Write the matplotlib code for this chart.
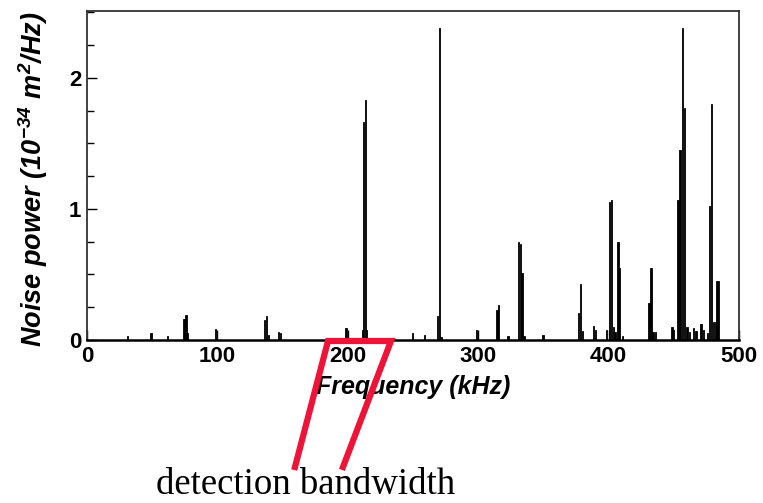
#!/usr/bin/env python3
"""Noise power spectrum with the detection band marked below the axis."""

import matplotlib

matplotlib.use("Agg")
import matplotlib.pyplot as plt
from matplotlib.lines import Line2D
from matplotlib.ticker import MultipleLocator

# Spectral lines: frequency (kHz) and noise power (1e-34 m^2/Hz)
freq_khz = [
    31.0, 49.0, 62.0, 74.5, 76.0, 77.2, 98.7, 136.3, 137.8, 139.0,
    146.7, 148.6, 198.6, 211.3, 212.3, 213.4, 214.5, 249.7, 259.0, 268.6,
    270.2, 271.5, 298.8, 314.5, 315.5, 322.9, 330.8, 332.2, 333.6, 335.0,
    349.7, 376.8, 378.6, 380.0, 388.3, 390.0, 398.5, 400.5, 402.0, 403.5,
    405.0, 407.2, 408.4, 410.5, 431.0, 432.5, 434.0, 436.0, 448.5, 450.0,
    453.3, 454.8, 456.5, 458.0, 460.0, 462.0, 465.0, 467.0, 470.8, 473.0,
    476.0, 477.5, 479.0, 480.5, 481.8, 483.2, 484.5,
]
power = [
    0.03, 0.055, 0.03, 0.16, 0.19, 0.05, 0.085, 0.15, 0.18, 0.04,
    0.06, 0.05, 0.09, 0.08, 1.66, 1.83, 0.08, 0.05, 0.04, 0.18,
    2.38, 0.02, 0.08, 0.23, 0.27, 0.03, 0.75, 0.73, 0.51, 0.03,
    0.04, 0.21, 0.43, 0.07, 0.11, 0.08, 0.08, 1.05, 1.07, 0.10,
    0.06, 0.75, 0.55, 0.03, 0.28, 0.55, 0.06, 0.06, 0.10, 0.08,
    1.07, 1.45, 2.38, 1.77, 0.10, 0.06, 0.09, 0.07, 0.12, 0.08,
    0.05, 1.02, 1.80, 0.14, 0.14, 0.45, 0.45,
]

x_ticks = [0, 100, 200, 300, 400, 500]
y_ticks = [0, 1, 2]

SANS = "Liberation Sans"
SERIF = "Liberation Serif"
RED = "#ee1438"

plt.rcParams["mathtext.fontset"] = "custom"
plt.rcParams["mathtext.rm"] = f"{SANS}:italic:bold"
plt.rcParams["mathtext.it"] = f"{SANS}:italic:bold"
plt.rcParams["mathtext.bf"] = f"{SANS}:italic:bold"

fig = plt.figure(figsize=(7.63, 5.03), dpi=100)
ax = fig.add_axes([0.114, 0.324, 0.8546, 0.654])

ax.bar(freq_khz, power, width=1.0, color="black", edgecolor="black",
       linewidth=0.6)

ax.set_xlim(0, 500)
ax.set_ylim(0, 2.51)
ax.set_xticks(x_ticks)
ax.set_yticks(y_ticks)
ax.yaxis.set_minor_locator(MultipleLocator(0.25))
ax.tick_params(which="both", direction="in", top=False, right=False,
               width=1.0, labelsize=16, pad=4)
ax.tick_params(which="major", length=7)
ax.tick_params(which="minor", length=5)
for label in ax.get_xticklabels() + ax.get_yticklabels():
    label.set_fontfamily(SANS)
    label.set_fontweight("bold")
for spine in ax.spines.values():
    spine.set_linewidth(1.3)
    spine.set_color("#333333")
ax.spines["bottom"].set_linewidth(1.8)
ax.spines["bottom"].set_color("black")

ax.set_xlabel("Frequency (kHz)", fontfamily=SANS, fontweight="bold",
              fontstyle="italic", fontsize=18)
ax.xaxis.set_label_coords(0.5, -0.105)
ax.set_ylabel("Noise power (10$^{-34}$ m$^{2}$/Hz)", fontfamily=SANS,
              fontweight="bold", fontstyle="italic", fontsize=19.5)
ax.yaxis.set_label_coords(-0.057, 0.49)

# Detection band funnel drawn in figure pixels
W, H = 763, 503
funnel_x = [295, 328, 391, 343]
funnel_y = [467, 341, 341, 467]
fig.add_artist(Line2D([x / W for x in funnel_x],
                      [1 - y / H for y in funnel_y],
                      transform=fig.transFigure, color=RED, linewidth=4.5,
                      solid_joinstyle="miter", clip_on=False))
fig.text(306 / W, 1 - 485 / H, "detection bandwidth", fontfamily=SERIF,
         fontsize=26.5, ha="center", va="center")

fig.savefig("out.png", dpi=100)
